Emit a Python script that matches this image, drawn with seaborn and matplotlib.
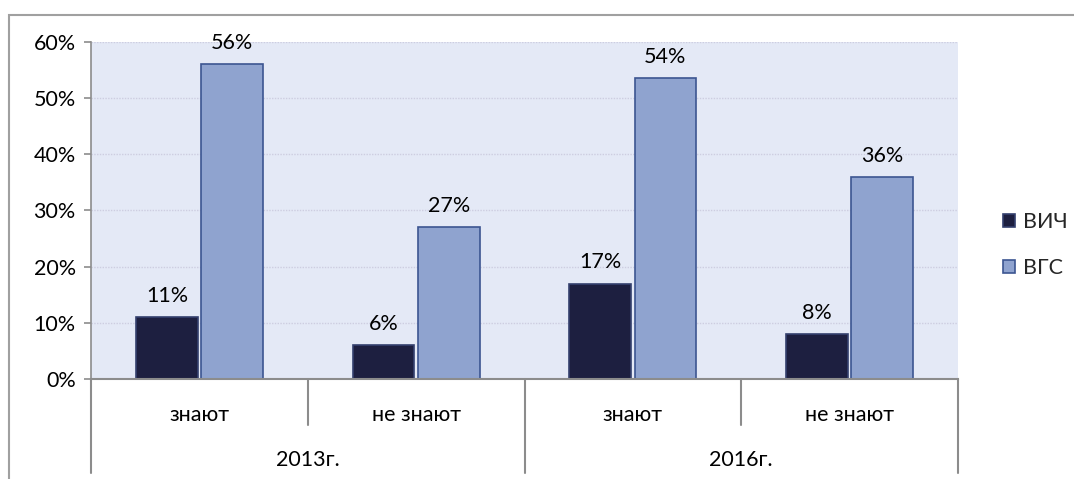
import pandas as pd
import matplotlib.pyplot as plt
import matplotlib.transforms as mtransforms
from matplotlib.patches import Rectangle, Patch
import seaborn as sns

# data
years = ['2013г.', '2016г.']
answers = ['знают', 'не знают']
series = ['ВИЧ', 'ВГС']
hiv = [0.11, 0.06, 0.17, 0.08]
hcv = [0.56, 0.27, 0.536, 0.36]
y_ticks = [0, 0.1, 0.2, 0.3, 0.4, 0.5, 0.6]

colors = {'ВИЧ': '#1d1f40', 'ВГС': '#8fa3cf'}
edges = {'ВИЧ': '#34406e', 'ВГС': '#3c5591'}

slots = [f'{y} {a}' for y in years for a in answers]
df = pd.DataFrame({
    'slot': slots * 2,
    'series': [series[0]] * 4 + [series[1]] * 4,
    'value': hiv + hcv,
})

sns.set_style('white')
plt.rcParams['font.family'] = ['Lato', 'DejaVu Sans']
FS = 15.5

fig = plt.figure(figsize=(10.74, 4.79), dpi=100)
ax = fig.add_axes([91 / 1074, 1 - 379 / 479, (958 - 91) / 1074, (379 - 42) / 479])

sns.barplot(data=df, x='slot', y='value', hue='series', order=slots,
            hue_order=series, palette=colors, saturation=1, width=0.6, gap=0.05,
            legend=False, ax=ax)

# bar edges + value labels
for cont, name in zip(ax.containers, series):
    for bar in cont:
        bar.set_edgecolor(edges[name])
        bar.set_linewidth(1.2)
    ax.bar_label(cont, labels=[f'{v * 100:.0f}%' for v in cont.datavalues],
                 padding=8, fontsize=FS, color='black')

ax.set_facecolor('#e4e9f6')
ax.set_ylim(0, 0.6)
ax.set_xlim(-0.5, 3.5)
ax.set_yticks(y_ticks)
ax.set_yticklabels([f'{t * 100:.0f}%' for t in y_ticks], fontsize=FS, color='black')
ax.yaxis.grid(True, color='#cdcde0', linestyle=(0, (1, 1)), linewidth=1)
ax.set_axisbelow(True)
ax.tick_params(axis='y', left=True, length=5, color='#8c8c8c', width=1.2, pad=6)
ax.set_xticks([])
ax.set_xlabel('')
ax.set_ylabel('')
for side in ['top', 'right']:
    ax.spines[side].set_visible(False)
ax.spines['left'].set_color('#8c8c8c')
ax.spines['left'].set_linewidth(1.2)
ax.spines['bottom'].set_color('#8c8c8c')
ax.spines['bottom'].set_linewidth(1.5)

# two-level category axis
trans = mtransforms.blended_transform_factory(ax.transData, ax.transAxes)
px = 1 / 337
for i, s in enumerate(slots):
    ax.text(i, -36 * px, answers[i % 2], transform=trans, ha='center',
            va='center', fontsize=FS, color='black')
for j, yr in enumerate(years):
    ax.text(2 * j + 0.5, -81 * px, yr, transform=trans, ha='center',
            va='center', fontsize=FS, color='black')
for x in [-0.5, 0.5, 1.5, 2.5, 3.5]:
    low = -94 * px if x in (-0.5, 1.5, 3.5) else -46 * px
    ax.plot([x, x], [0, low], transform=trans, color='#8c8c8c',
            linewidth=1.5, clip_on=False)

# legend
handles = [Patch(facecolor=colors[s], edgecolor=edges[s], linewidth=1.2, label=s)
           for s in series]
fig.legend(handles=handles, loc='center left', bbox_to_anchor=(984 / 1074, 1 - 245 / 479),
           frameon=False, fontsize=FS, handlelength=0.55, handleheight=0.55,
           handletextpad=0.35, labelspacing=1.2)

# outer chart frame
fig.patches.append(Rectangle((9 / 1074, -0.05), 1.1, 1 - 15 / 479 + 0.05,
                             transform=fig.transFigure, fill=False,
                             edgecolor='#a0a0a0', linewidth=1.5))

fig.savefig('out.png', dpi=100)
